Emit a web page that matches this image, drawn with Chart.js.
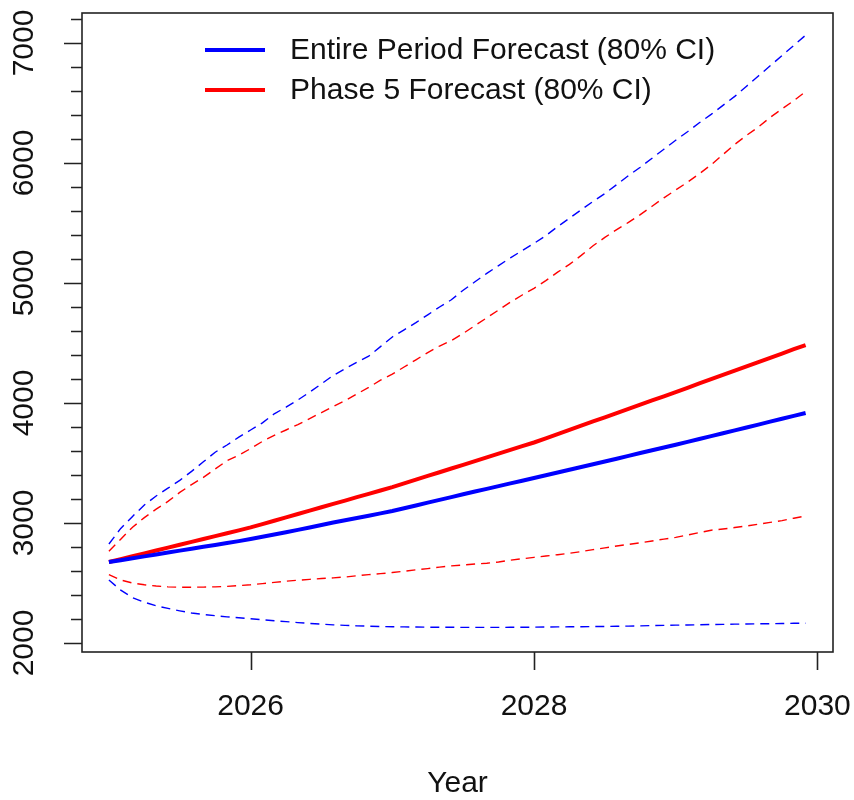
<!DOCTYPE html>
<html>
<head>
<meta charset="utf-8">
<script src="https://cdn.jsdelivr.net/npm/chart.js@4.4.1/dist/chart.umd.min.js"></script>
<style>
  html, body { margin: 0; padding: 0; background: #fff; }
  #wrap { width: 854px; height: 800px; }
</style>
</head>
<body>
<div id="wrap"><canvas id="forecastChart" width="854" height="800"></canvas></div>
<script>
// monthly forecasts, Jan 2025 .. Dec 2029
const startYear = 2025;

const entireMean = [
  2675, 2690, 2706, 2722, 2738, 2754, 2770, 2786, 2802, 2817, 2833, 2849,
  2866, 2885, 2904, 2923, 2943, 2963, 2984, 3004, 3023, 3042, 3061, 3080,
  3100, 3123, 3146, 3170, 3193, 3216, 3239, 3262, 3284, 3307, 3330, 3352,
  3375, 3398, 3421, 3444, 3467, 3490, 3513, 3536, 3559, 3583, 3606, 3629,
  3652, 3676, 3700, 3724, 3748, 3772, 3796, 3820, 3845, 3869, 3893, 3917
];
const entireUpper = [
  2825, 2955, 3055, 3150, 3225, 3290, 3355, 3430, 3510, 3590, 3650, 3715,
  3775, 3835, 3910, 3965, 4025, 4090, 4160, 4230, 4285, 4340, 4390, 4470,
  4550, 4610, 4670, 4735, 4800, 4860, 4940, 5010, 5080, 5145, 5210, 5270,
  5330, 5395, 5470, 5540, 5610, 5680, 5745, 5820, 5895, 5965, 6040, 6115,
  6190, 6260, 6335, 6405, 6480, 6555, 6640, 6725, 6810, 6895, 6980, 7065
];
const entireLower = [
  2525, 2440, 2378, 2340, 2310, 2288, 2268, 2250, 2238, 2228, 2218, 2210,
  2202, 2194, 2186, 2178, 2170, 2163, 2157, 2151, 2147, 2143, 2140, 2137,
  2135, 2134, 2133, 2132, 2131, 2131, 2130, 2130, 2130, 2130, 2131, 2131,
  2132, 2133, 2134, 2135, 2136, 2137, 2138, 2139, 2141, 2143, 2145, 2147,
  2149, 2150, 2152, 2154, 2155, 2157, 2158, 2160, 2161, 2162, 2164, 2165
];

const phase5Mean = [
  2675, 2699, 2723, 2747, 2771, 2795, 2819, 2843, 2867, 2891, 2915, 2939,
  2963, 2991, 3019, 3047, 3075, 3103, 3131, 3159, 3187, 3215, 3243, 3271,
  3299, 3330, 3361, 3392, 3423, 3454, 3485, 3516, 3547, 3578, 3609, 3640,
  3671, 3706, 3741, 3776, 3811, 3846, 3881, 3916, 3951, 3986, 4021, 4056,
  4091, 4127, 4163, 4199, 4234, 4270, 4306, 4341, 4377, 4412, 4448, 4483
];
const phase5Upper = [
  2765, 2865, 2965, 3045, 3115, 3180, 3255, 3320, 3380, 3450, 3520, 3565,
  3620, 3680, 3730, 3775, 3820, 3870, 3920, 3970, 4020, 4075, 4130, 4190,
  4240, 4300, 4360, 4420, 4475, 4520, 4580, 4645, 4710, 4775, 4840, 4900,
  4955, 5020, 5090, 5155, 5230, 5310, 5380, 5445, 5505, 5570, 5640, 5710,
  5775, 5840, 5910, 5985, 6070, 6155, 6230, 6300, 6380, 6450, 6520, 6595
];
const phase5Lower = [
  2570, 2525, 2500, 2485, 2475, 2468, 2465, 2465, 2466, 2468, 2472, 2478,
  2485, 2495, 2505, 2515, 2523, 2530, 2537, 2543, 2550, 2560, 2570, 2578,
  2587, 2598, 2610, 2620, 2632, 2643, 2650, 2658, 2665, 2675, 2690, 2702,
  2714, 2725, 2736, 2748, 2762, 2778, 2793, 2808, 2822, 2835, 2850, 2866,
  2880, 2900, 2920, 2940, 2950, 2962, 2975, 2990, 3005, 3020, 3040, 3058
];

const xTicks = [2026, 2028, 2030];
const yMajorTicks = [2000, 3000, 4000, 5000, 6000, 7000];
const yMinorStep = 200;
const legendLabels = ['Entire Period Forecast (80% CI)', 'Phase 5 Forecast (80% CI)'];

const BLUE = '#0000ff';
const RED = '#ff0000';
const FONT = '30px "Liberation Sans", Arial, sans-serif';

function toPoints(values) {
  return values.map((v, i) => ({ x: startYear + i / 12, y: v }));
}

function series(values, color, solid) {
  return {
    data: toPoints(values),
    borderColor: color,
    borderWidth: solid ? 4 : 1.4,
    borderDash: solid ? [] : [9, 6],
    pointRadius: 0,
    tension: 0,
    fill: false
  };
}

// R-style box, ticks, labels and legend
const baseAxes = {
  id: 'baseAxes',
  afterDatasetsDraw(chart) {
    const ctx = chart.ctx;
    const area = chart.chartArea;
    const xs = chart.scales.x;
    const ys = chart.scales.y;
    ctx.save();
    ctx.strokeStyle = '#222';
    ctx.lineWidth = 1.6;
    ctx.strokeRect(area.left, area.top, area.right - area.left, area.bottom - area.top);

    ctx.fillStyle = '#111';
    ctx.font = FONT;

    // y axis: minor every 200, major with labels every 1000
    ctx.beginPath();
    for (let v = 2000; v <= 7200; v += yMinorStep) {
      const y = Math.round(ys.getPixelForValue(v)) + 0.5;
      const len = yMajorTicks.includes(v) ? 18 : 11;
      ctx.moveTo(area.left, y);
      ctx.lineTo(area.left - len, y);
    }
    ctx.stroke();
    yMajorTicks.forEach(v => {
      const y = ys.getPixelForValue(v);
      ctx.save();
      ctx.translate(25, y);
      ctx.rotate(-Math.PI / 2);
      ctx.textAlign = 'center';
      ctx.textBaseline = 'middle';
      ctx.fillText(String(v), 0, 0);
      ctx.restore();
    });

    // x axis
    ctx.beginPath();
    xTicks.forEach(v => {
      const x = Math.round(xs.getPixelForValue(v)) + 0.5;
      ctx.moveTo(x, area.bottom);
      ctx.lineTo(x, area.bottom + 18);
    });
    ctx.stroke();
    ctx.textAlign = 'center';
    ctx.textBaseline = 'middle';
    xTicks.forEach(v => {
      ctx.fillText(String(v), xs.getPixelForValue(v), 707);
    });
    ctx.fillText('Year', (area.left + area.right) / 2, 784);

    // legend
    const colors = [BLUE, RED];
    legendLabels.forEach((label, i) => {
      const y = 50 + i * 40;
      ctx.strokeStyle = colors[i];
      ctx.lineWidth = 4;
      ctx.beginPath();
      ctx.moveTo(205, y);
      ctx.lineTo(265, y);
      ctx.stroke();
      ctx.textAlign = 'left';
      ctx.fillText(label, 290, y + 1);
    });
    ctx.restore();
  }
};

const chart = new Chart(document.getElementById('forecastChart').getContext('2d'), {
  type: 'line',
  data: {
    datasets: [
      series(entireUpper, BLUE, false),
      series(entireLower, BLUE, false),
      series(phase5Upper, RED, false),
      series(phase5Lower, RED, false),
      series(entireMean, BLUE, true),
      series(phase5Mean, RED, true)
    ]
  },
  options: {
    responsive: false,
    animation: false,
    layout: { padding: { left: 82, right: 21, top: 13, bottom: 148 } },
    scales: {
      x: { type: 'linear', min: 2024.81, max: 2030.11, display: false },
      y: { type: 'linear', min: 1925, max: 7250, display: false }
    },
    plugins: {
      legend: { display: false },
      tooltip: { enabled: false }
    }
  },
  plugins: [baseAxes]
});
</script>
</body>
</html>
